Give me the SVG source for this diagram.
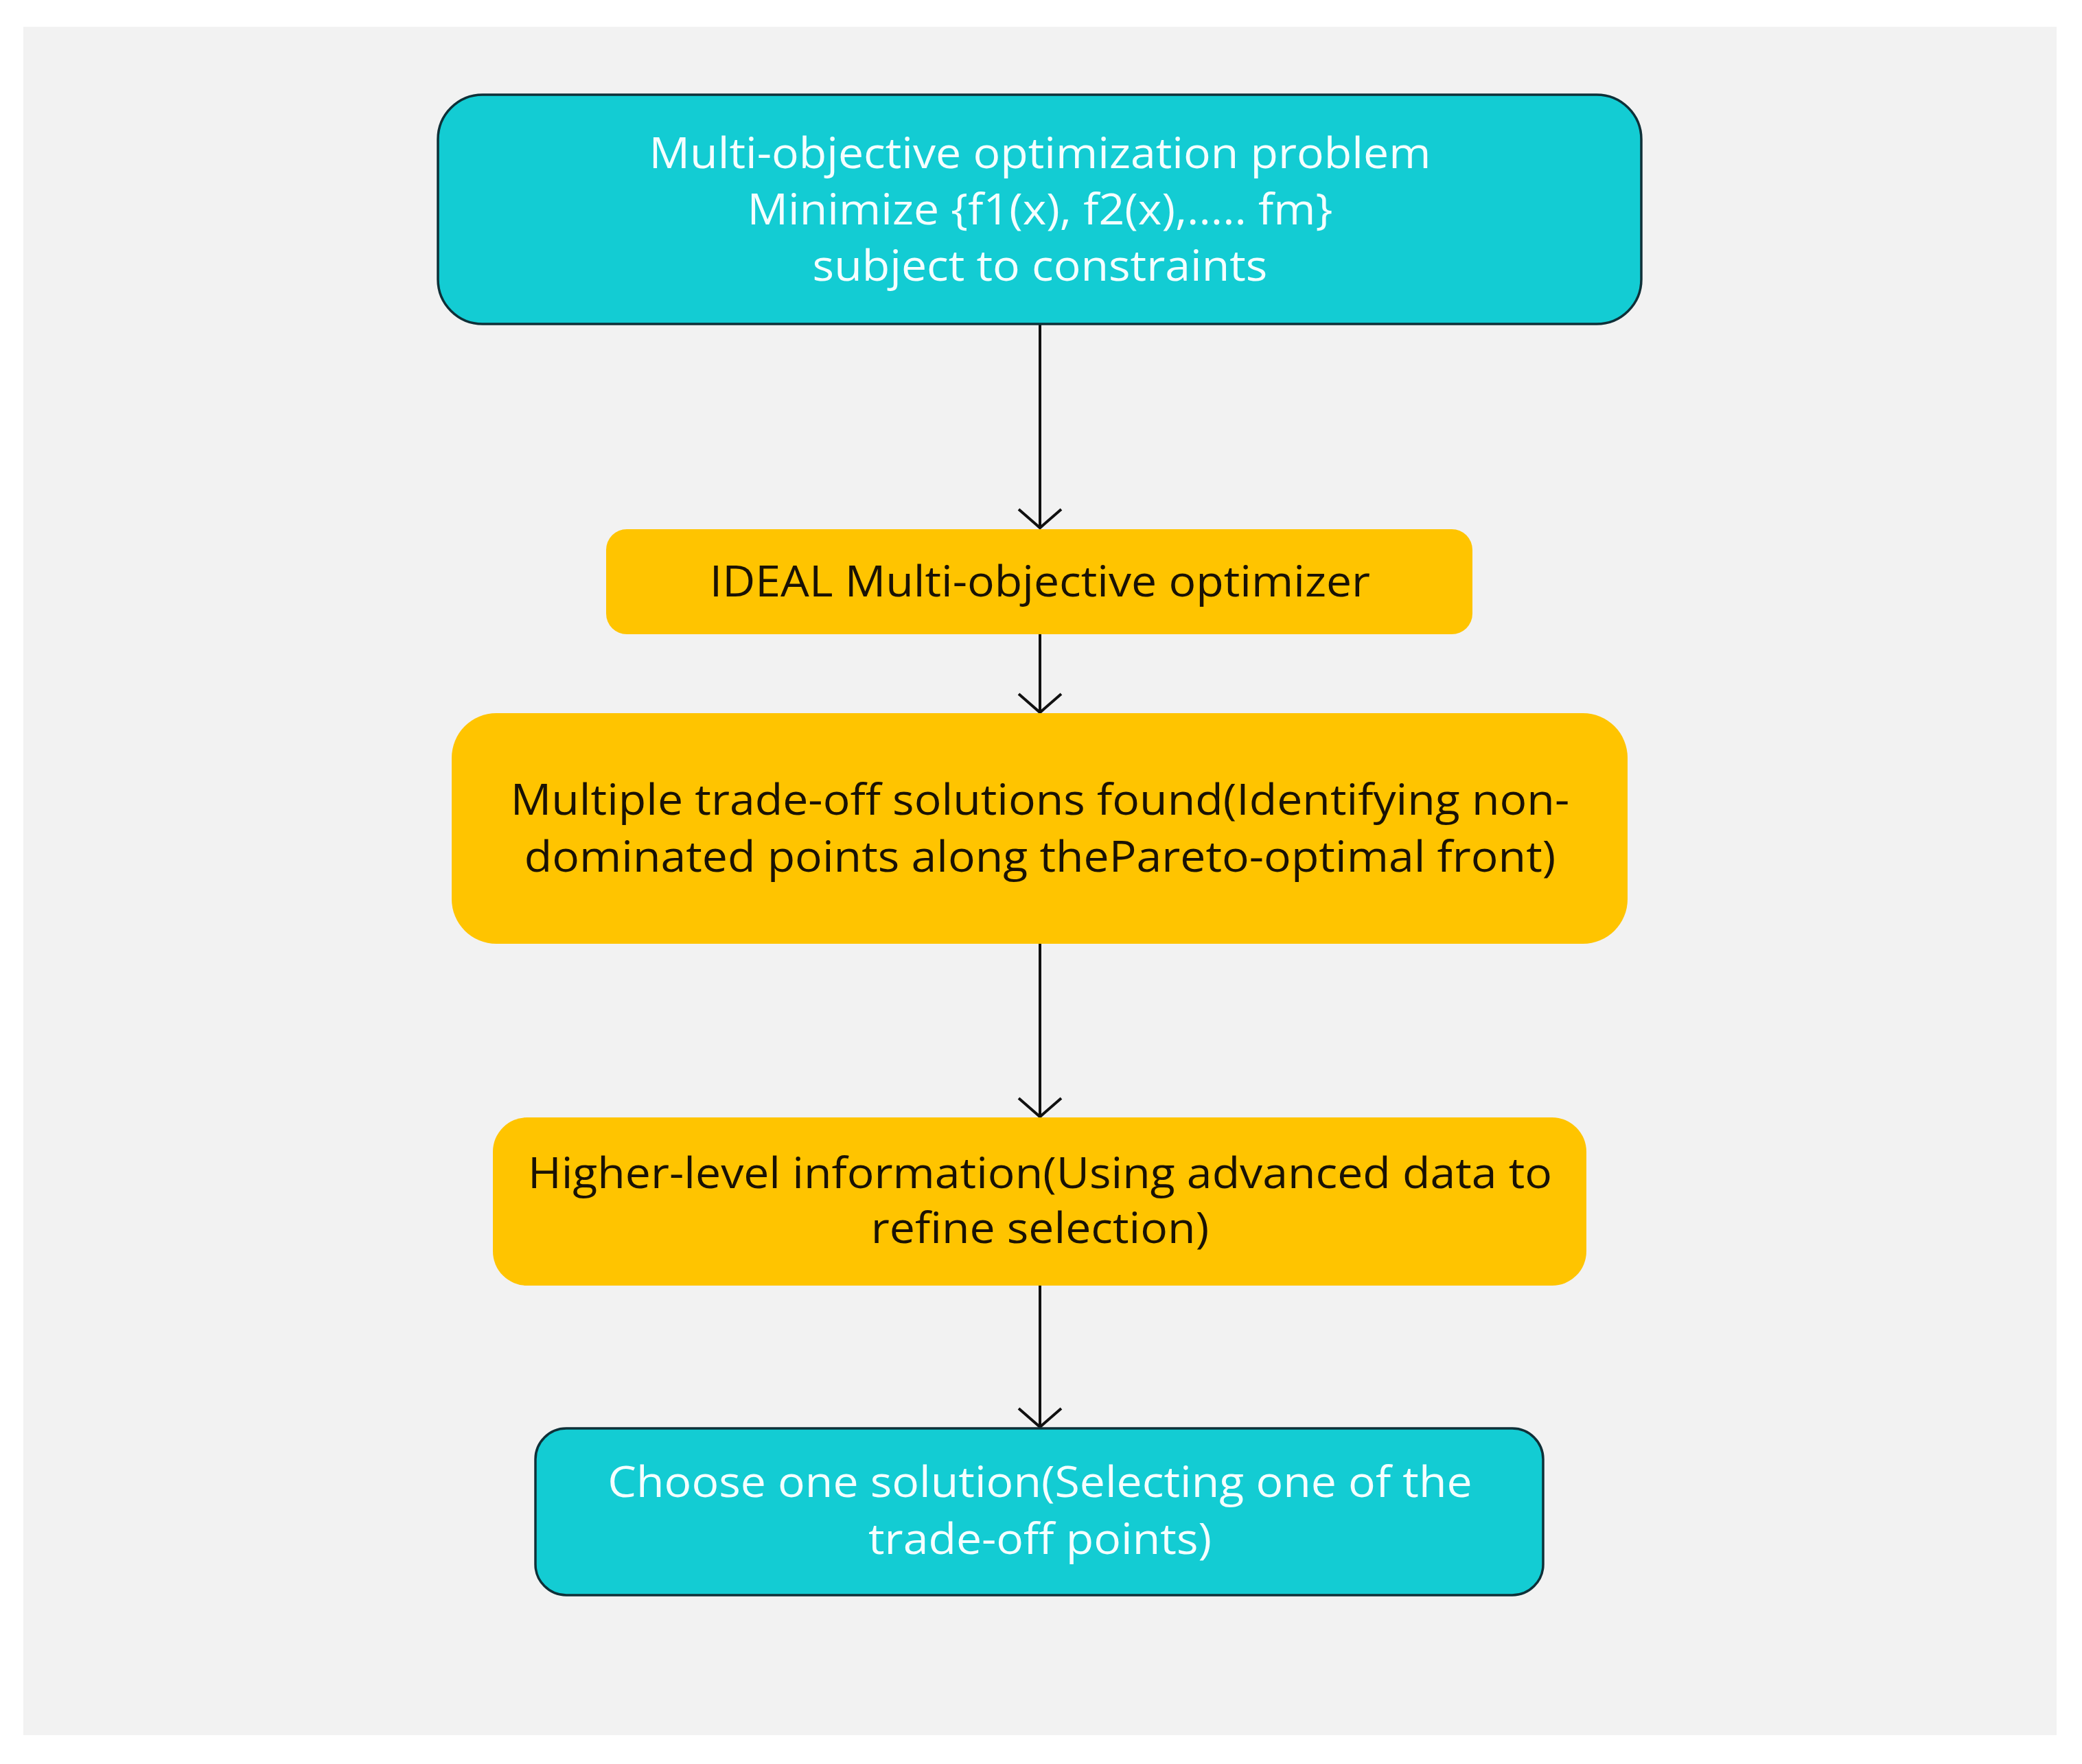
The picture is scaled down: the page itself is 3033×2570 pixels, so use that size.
<svg xmlns="http://www.w3.org/2000/svg" width="3033" height="2570" viewBox="0 0 3033 2570">
<style>
.teal{fill:#13CCD3;stroke:#0f3038;stroke-width:3.5}
.yel{fill:#FFC400}
.t{font-family:"Open Sans","Noto Sans","Liberation Sans",sans-serif;font-size:62px;text-anchor:middle}
.w{fill:#F4FFFF}
.d{fill:#1a1204}
.c{stroke:#111;stroke-width:4;fill:none}
</style>
<defs>
<marker id="ah" markerUnits="userSpaceOnUse" markerWidth="40" markerHeight="70" refX="30" refY="33" orient="auto" viewBox="0 0 40 70">
<path d="M3,2 L30,33 L3,64" fill="none" stroke="#111" stroke-width="4"/>
</marker>
</defs>
<rect x="0" y="0" width="3033" height="2570" fill="#ffffff"/>
<rect x="34" y="39" width="2962" height="2489" fill="#F2F2F2"/>
<g id="connectors">
<line class="c" x1="1515" y1="472" x2="1515" y2="769" marker-end="url(#ah)"/>
<line class="c" x1="1515" y1="924" x2="1515" y2="1038" marker-end="url(#ah)"/>
<line class="c" x1="1515" y1="1375" x2="1515" y2="1627" marker-end="url(#ah)"/>
<line class="c" x1="1515" y1="1873" x2="1515" y2="2079" marker-end="url(#ah)"/>
</g>
<g id="node-problem">
<rect class="teal" x="638" y="138" width="1753" height="334" rx="65" ry="65"/>
<g transform="translate(-101.5,0) scale(1.067,1)">
<text class="t w" x="1515" y="245">Multi-objective optimization problem</text>
<text class="t w" x="1515" y="327">Minimize {f1(x), f2(x),..... fm}</text>
<text class="t w" x="1515" y="409">subject to constraints</text>
</g>
</g>
<g id="node-optimizer">
<rect class="yel" x="883" y="771" width="1262" height="153" rx="30" ry="30"/>
<g transform="translate(-101.5,0) scale(1.067,1)">
<text class="t d" x="1515" y="869">IDEAL Multi-objective optimizer</text>
</g>
</g>
<g id="node-tradeoff">
<rect class="yel" x="658" y="1039" width="1713" height="336" rx="65" ry="65"/>
<g transform="translate(-101.5,0) scale(1.067,1)">
<text class="t d" x="1515" y="1187">Multiple trade-off solutions found(Identifying non-</text>
<text class="t d" x="1515" y="1270">dominated points along thePareto-optimal front)</text>
</g>
</g>
<g id="node-higher">
<rect class="yel" x="718" y="1628" width="1593" height="245" rx="50" ry="50"/>
<g transform="translate(-101.5,0) scale(1.067,1)">
<text class="t d" x="1515" y="1731">Higher-level information(Using advanced data to</text>
<text class="t d" x="1515" y="1811">refine selection)</text>
</g>
</g>
<g id="node-choose">
<rect class="teal" x="780" y="2081" width="1468" height="243" rx="45" ry="45"/>
<g transform="translate(-101.5,0) scale(1.067,1)">
<text class="t w" x="1515" y="2181">Choose one solution(Selecting one of the</text>
<text class="t w" x="1515" y="2264">trade-off points)</text>
</g>
</g>
</svg>
